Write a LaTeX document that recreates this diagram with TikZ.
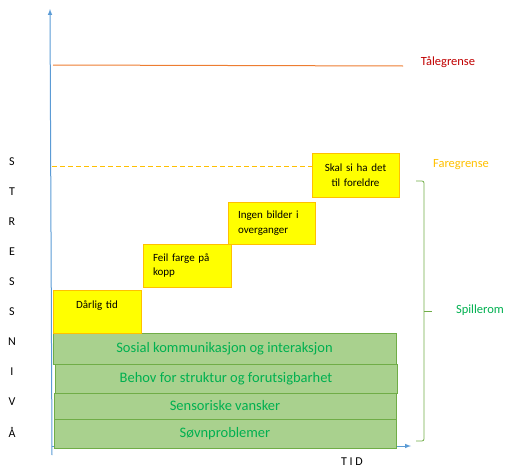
\documentclass[tikz,border=0pt]{standalone}
\usepackage{fontspec}
\setmainfont{Carlito}
\usepackage{xcolor}
\usepackage{tikz}
\usetikzlibrary{positioning}

\definecolor{axisblue}{HTML}{5B9BD5}
\definecolor{limitorange}{HTML}{ED7D31}
\definecolor{limitred}{HTML}{C00000}
\definecolor{warngold}{HTML}{FFC000}
\definecolor{boxyellow}{HTML}{FFFF00}
\definecolor{boxgreen}{HTML}{A9D18E}
\definecolor{linegreen}{HTML}{70AD47}
\definecolor{textgreen}{HTML}{00B050}

\begin{document}
\begin{tikzpicture}[x=1pt,y=-1pt,
  stress/.style={draw=warngold,line width=0.8pt,fill=boxyellow,inner xsep=10pt,
    font=\fontsize{11}{14.5}\selectfont,align=left},
  base/.style={draw=linegreen,line width=0.8pt,fill=boxgreen,text=textgreen,
    font=\fontsize{14.5}{16}\selectfont},
  limit/.style={font=\fontsize{12.5}{14}\selectfont},
  letter/.style={font=\fontsize{12}{14}\selectfont}]
\useasboundingbox (0,0) rectangle (516,471);

% akser
\coordinate (ybot) at (52,455);
\coordinate (ytop) at (50,9);
\coordinate (xleft) at (52,446);
\coordinate (xright) at (411,446);
\draw[axisblue,line width=1pt,-latex] (ybot) -- (ytop);
\draw[axisblue,line width=1pt,-latex] (xleft) -- (xright);

% grenser
\coordinate (taleA) at (53,65);
\coordinate (taleB) at (403,66);
\draw[limitorange,line width=1pt] (taleA) -- (taleB);
\coordinate (fareA) at (52,166);
\coordinate (fareB) at (312,166);
\draw[warngold,line width=0.8pt,dash pattern=on 5pt off 3pt] (fareA) -- (fareB);

\node[limit,text=limitred] (tale) at (448,62) {Tålegrense};
\node[limit,text=warngold] (fare) at (461,165) {Faregrense};

% grunnlag
\node[base,minimum width=343pt,minimum height=31pt] (sosial) at (224.5,348.5) {Sosial kommunikasjon og interaksjon};
\node[base,minimum width=342pt,minimum height=29pt] (behov) at (226,378.5) {Behov for struktur og forutsigbarhet};
\node[base,minimum width=342pt,minimum height=26pt] (sensor) at (225,406) {Sensoriske vansker};
\node[base,minimum width=342pt,minimum height=29pt] (sovn) at (225,433.5) {Søvnproblemer};

% stressfaktorer
\node[stress,minimum width=88pt,minimum height=43pt,text width=68pt,align=center,text depth=13pt] (darlig) at (97,311.5) {Dårlig tid};
\node[stress,minimum width=88pt,minimum height=43pt,text width=68pt] (feil) at (187,265.5) {Feil farge på\\kopp};
\node[stress,minimum width=87pt,minimum height=42pt,text width=67pt] (ingen) at (271.5,223) {Ingen bilder i\\overganger};
\node[stress,minimum width=87pt,minimum height=44pt,text width=67pt,align=center] (skal) at (355.5,175) {Skal si ha det\\til foreldre};

% spillerom
\coordinate (spilltop) at (416,181);
\coordinate (spillmid) at (424,311);
\coordinate (spilltip) at (432,311);
\coordinate (spillbot) at (416,441);
\draw[linegreen,line width=0.8pt,rounded corners=2pt] (spilltop) -| (spillmid) |- (spillbot);
\draw[linegreen,line width=0.8pt] (spillmid) -- (spilltip);
\node[limit,text=textgreen] (spill) at (480,310) {Spillerom};

% STRESSNIVÅ
\node[letter] (s1) at (12,162) {S};
\node[letter] (t1) at (12,192) {T};
\node[letter] (r1) at (12,222) {R};
\node[letter] (e1) at (12,252) {E};
\node[letter] (s2) at (12,282) {S};
\node[letter] (s3) at (12,312) {S};
\node[letter] (n1) at (12,342) {N};
\node[letter] (i1) at (12,372) {I};
\node[letter] (v1) at (12,402) {V};
\node[letter] (a1) at (12,432) {Å};

\node[letter] (tid) at (352,462) {T I D};

\end{tikzpicture}
\end{document}
